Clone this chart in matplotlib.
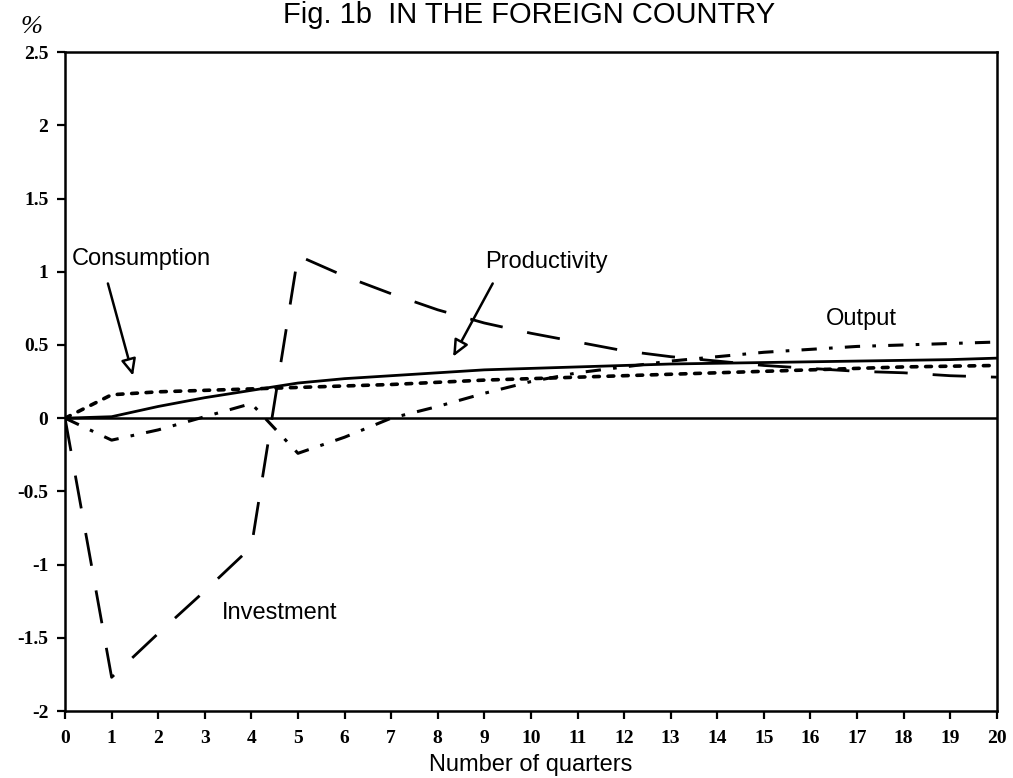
import matplotlib
matplotlib.use("Agg")
import matplotlib.pyplot as plt

# impulse responses, quarters 0..20
quarters = list(range(21))
output = [0, 0.01, 0.08, 0.14, 0.19, 0.24, 0.27, 0.29, 0.31, 0.33, 0.34,
          0.35, 0.36, 0.37, 0.375, 0.38, 0.385, 0.39, 0.395, 0.40, 0.41]
consumption = [0, 0.16, 0.18, 0.19, 0.20, 0.21, 0.22, 0.23, 0.245, 0.26, 0.27,
               0.28, 0.29, 0.30, 0.31, 0.32, 0.33, 0.34, 0.35, 0.355, 0.36]
productivity = [0, -0.15, -0.08, 0.01, 0.10, -0.24, -0.13, 0.0, 0.08, 0.17, 0.25,
                0.31, 0.35, 0.39, 0.42, 0.45, 0.47, 0.49, 0.50, 0.51, 0.52]
investment = [0, -1.77, -1.47, -1.18, -0.88, 1.11, 0.97, 0.85, 0.74, 0.65, 0.58,
              0.52, 0.46, 0.42, 0.39, 0.36, 0.34, 0.32, 0.31, 0.29, 0.28]
yticks = [2.5, 2, 1.5, 1, 0.5, 0, -0.5, -1, -1.5, -2]
ytick_labels = ["2.5", "2", "1.5", "1", "0.5", "0", "-0.5", "-1", "-1.5", "-2"]

sans = "Liberation Sans"
serif = "Liberation Serif"

fig = plt.figure(figsize=(10.13, 7.78), dpi=100)
ax = fig.add_axes([0.0642, 0.0861, 0.9198, 0.8469])
ax.set_xlim(0, 20); ax.set_ylim(-2, 2.5)

ax.axhline(0, color="black", lw=1.8, zorder=1)
ax.plot(quarters, output, color="black", lw=2.0, solid_capstyle="round")
ax.plot(quarters, consumption, color="black", lw=2.6, dashes=(1.6, 2.4), dash_capstyle="round")
ax.plot(quarters, productivity, color="black", lw=2.2, dashes=(5, 4, 1.2, 4))
ax.plot(quarters, investment, color="black", lw=2.0, dashes=(12, 9))

for s in ax.spines.values():
    s.set_linewidth(1.8)
ax.set_xticks(quarters)
ax.set_xticklabels([str(q) for q in quarters], family=serif, fontweight="bold", fontsize=14)
ax.set_yticks(yticks)
ax.set_yticklabels(ytick_labels, family=serif, fontweight="bold", fontsize=14)
ax.tick_params(direction="out", length=6, width=1.6, pad=6)
ax.tick_params(axis="x", pad=8)

ax.set_xlabel("Number of quarters", family=sans, fontsize=17, labelpad=5)
fig.text(0.522, 0.999, "Fig. 1b  IN THE FOREIGN COUNTRY", family=sans, fontsize=21,
         ha="center", va="top")
fig.text(0.020, 0.965, "%", family=serif, fontsize=19, style="italic", ha="left", va="center")

ann = dict(family=sans, fontsize=17)
arrow = dict(arrowstyle="-|>,head_length=1.0,head_width=0.45", fc="white", ec="black", lw=1.8,
             shrinkA=0, shrinkB=0)
ax.text(0.15, 1.09, "Consumption", va="center", **ann)
ax.annotate("", xy=(1.46, 0.29), xytext=(0.92, 0.92), arrowprops=arrow)
ax.text(9.01, 1.07, "Productivity", va="center", **ann)
ax.annotate("", xy=(8.33, 0.42), xytext=(9.18, 0.92), arrowprops=arrow)
ax.text(3.37, -1.33, "Investment", va="center", **ann)
ax.text(16.33, 0.68, "Output", va="center", **ann)

fig.savefig("out.png", dpi=100)
